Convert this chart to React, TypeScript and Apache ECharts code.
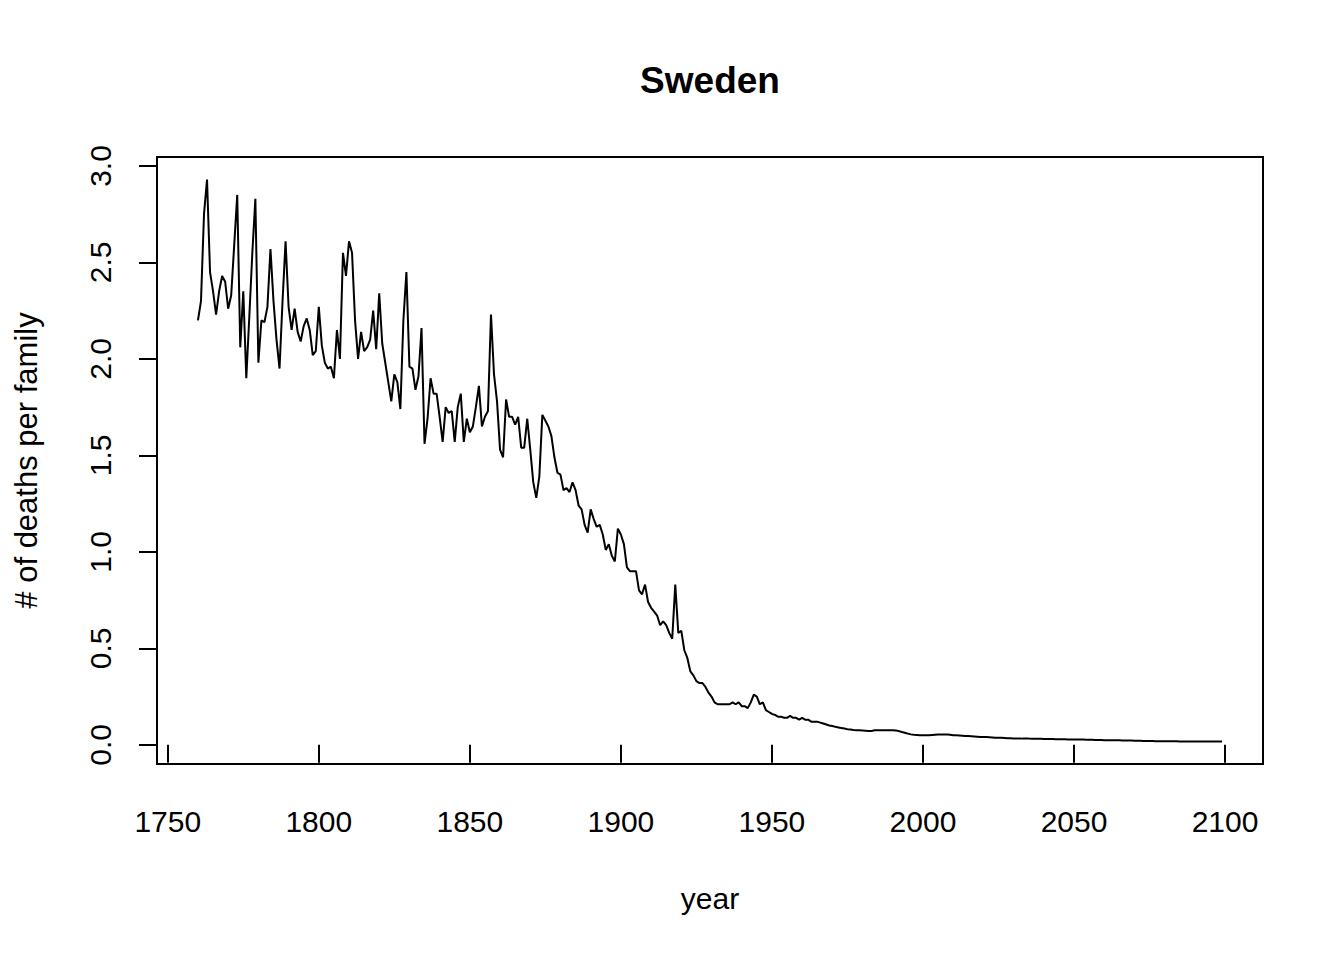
import React, { useEffect, useRef } from "react";
import * as echarts from "echarts";

const startYear = 1760;
const deaths: number[] = [
  // 1760s
  2.20, 2.30, 2.75, 2.93, 2.45, 2.35, 2.23, 2.35, 2.43, 2.40,
  // 1770s
  2.26, 2.33, 2.59, 2.85, 2.06, 2.35, 1.90, 2.22, 2.55, 2.83,
  // 1780s
  1.98, 2.20, 2.19, 2.27, 2.57, 2.30, 2.10, 1.95, 2.30, 2.61,
  // 1790s
  2.27, 2.15, 2.26, 2.14, 2.09, 2.17, 2.21, 2.15, 2.02, 2.04,
  // 1800s
  2.27, 2.07, 1.98, 1.95, 1.96, 1.90, 2.15, 2.00, 2.55, 2.43,
  // 1810s
  2.61, 2.55, 2.20, 2.00, 2.14, 2.04, 2.06, 2.10, 2.25, 2.05,
  // 1820s
  2.34, 2.08, 1.98, 1.88, 1.78, 1.92, 1.88, 1.74, 2.20, 2.45,
  // 1830s
  1.96, 1.95, 1.84, 1.91, 2.16, 1.56, 1.69, 1.90, 1.82, 1.82,
  // 1840s
  1.70, 1.57, 1.75, 1.72, 1.73, 1.57, 1.75, 1.82, 1.57, 1.69,
  // 1850s
  1.62, 1.65, 1.75, 1.86, 1.65, 1.70, 1.73, 2.23, 1.92, 1.78,
  // 1860s
  1.53, 1.49, 1.79, 1.70, 1.70, 1.66, 1.70, 1.54, 1.54, 1.69,
  // 1870s
  1.53, 1.36, 1.28, 1.39, 1.71, 1.68, 1.65, 1.60, 1.49, 1.41,
  // 1880s
  1.40, 1.32, 1.33, 1.31, 1.36, 1.32, 1.24, 1.22, 1.14, 1.10,
  // 1890s
  1.22, 1.17, 1.13, 1.14, 1.09, 1.01, 1.04, 0.98, 0.95, 1.12,
  // 1900s
  1.09, 1.04, 0.92, 0.90, 0.90, 0.90, 0.80, 0.78, 0.83, 0.74,
  // 1910s
  0.71, 0.69, 0.67, 0.62, 0.64, 0.62, 0.58, 0.55, 0.83, 0.58,
  // 1920s
  0.59, 0.49, 0.45, 0.38, 0.36, 0.33, 0.32, 0.32, 0.30, 0.27,
  // 1930s
  0.25, 0.22, 0.21, 0.21, 0.21, 0.21, 0.21, 0.22, 0.21, 0.22,
  // 1940s
  0.20, 0.20, 0.19, 0.22, 0.26, 0.25, 0.21, 0.22, 0.18, 0.17,
  // 1950s
  0.16, 0.155, 0.146, 0.146, 0.14, 0.14, 0.15, 0.14, 0.14, 0.13,
  // 1960s
  0.14, 0.13, 0.13, 0.12, 0.12, 0.12, 0.115, 0.11, 0.105, 0.10,
  // 1970s
  0.097, 0.093, 0.09, 0.087, 0.084, 0.081, 0.079, 0.077, 0.076, 0.075,
  // 1980s
  0.074, 0.073, 0.072, 0.072, 0.075, 0.076, 0.076, 0.076, 0.076, 0.076,
  // 1990s
  0.075, 0.074, 0.071, 0.066, 0.062, 0.058, 0.054, 0.052, 0.051, 0.05,
  // 2000s
  0.05, 0.05, 0.05, 0.051, 0.052, 0.053, 0.054, 0.054, 0.053, 0.052,
  // 2010s
  0.05, 0.049, 0.048, 0.047, 0.046, 0.045, 0.044, 0.043, 0.042, 0.041,
  // 2020s
  0.04, 0.04, 0.039, 0.038, 0.037, 0.037, 0.036, 0.035, 0.034, 0.034,
  // 2030s
  0.033, 0.033, 0.033, 0.032, 0.032, 0.032, 0.031, 0.031, 0.031, 0.031,
  // 2040s
  0.030, 0.030, 0.030, 0.030, 0.029, 0.029, 0.029, 0.029, 0.028, 0.028,
  // 2050s
  0.028, 0.027, 0.027, 0.027, 0.026, 0.026, 0.026, 0.025, 0.025, 0.025,
  // 2060s
  0.024, 0.024, 0.024, 0.023, 0.023, 0.023, 0.022, 0.022, 0.022, 0.022,
  // 2070s
  0.021, 0.021, 0.021, 0.020, 0.020, 0.020, 0.020, 0.019, 0.019, 0.019,
  // 2080s
  0.019, 0.018, 0.018, 0.018, 0.018, 0.017, 0.017, 0.017, 0.017, 0.017,
  // 2090s
  0.017, 0.017, 0.017, 0.017, 0.017, 0.017, 0.017, 0.017, 0.017, 0.017,
];
const years: number[] = deaths.map((_, i) => startYear + i);

const xTicks = [1750, 1800, 1850, 1900, 1950, 2000, 2050, 2100];
const yTicks = [0, 0.5, 1.0, 1.5, 2.0, 2.5, 3.0];

const FONT = "'Liberation Sans', Arial, Helvetica, sans-serif";

export default function App() {
  const ref = useRef<HTMLDivElement>(null);
  useEffect(() => {
    if (!ref.current) return;
    const chart = echarts.init(ref.current, undefined, { renderer: "svg" });
    const xmin = Math.min(...years), xmax = Math.max(...years);
    const xr = xmax - xmin;
    const ymin = Math.min(...deaths), ymax = Math.max(...deaths);
    const yr = ymax - ymin;
    chart.setOption({
      animation: false,
      backgroundColor: "#ffffff",
      title: {
        text: "Sweden",
        left: 710,
        top: 62,
        textAlign: "center",
        padding: 0,
        textStyle: { fontFamily: FONT, fontSize: 37, fontWeight: "bold", color: "#000" },
      },
      grid: {
        left: 157,
        top: 157,
        width: 1106,
        height: 607,
        show: true,
        borderColor: "#000",
        borderWidth: 2,
        backgroundColor: "transparent",
      },
      xAxis: {
        type: "value",
        min: xmin - xr * 0.04,
        max: xmax + xr * 0.04,
        name: "year",
        nameLocation: "middle",
        nameGap: 119,
        nameTextStyle: { fontFamily: FONT, fontSize: 30, color: "#000" },
        axisLine: { show: false },
        splitLine: { show: false },
        axisTick: { show: true, inside: false, length: 18, customValues: xTicks, lineStyle: { color: "#000", width: 2 } },
        axisLabel: {
          show: true,
          customValues: xTicks,
          margin: 42,
          fontFamily: FONT,
          fontSize: 30,
          color: "#000",
          formatter: (v: number) => String(v),
        },
      },
      yAxis: {
        type: "value",
        min: ymin - yr * 0.04,
        max: ymax + yr * 0.04,
        name: "# of deaths per family",
        nameLocation: "middle",
        nameGap: 115,
        nameRotate: 90,
        nameTextStyle: { fontFamily: FONT, fontSize: 31, color: "#000" },
        axisLine: { show: false },
        splitLine: { show: false },
        axisTick: { show: true, inside: false, length: 18, customValues: yTicks, lineStyle: { color: "#000", width: 2 } },
        axisLabel: {
          show: true,
          customValues: yTicks,
          rotate: 90,
          margin: 42,
          fontFamily: FONT,
          fontSize: 30,
          color: "#000",
          formatter: (v: number) => v.toFixed(1),
        },
      },
      series: [
        {
          type: "line",
          data: years.map((y, i) => [y, deaths[i]]),
          showSymbol: false,
          symbol: "none",
          lineStyle: { color: "#000", width: 2 },
          silent: true,
        },
      ],
    });
    return () => chart.dispose();
  }, []);
  return (
    <div
      ref={ref}
      style={{ position: "absolute", left: 0, top: 0, width: 1344, height: 960, background: "#fff" }}
    />
  );
}
